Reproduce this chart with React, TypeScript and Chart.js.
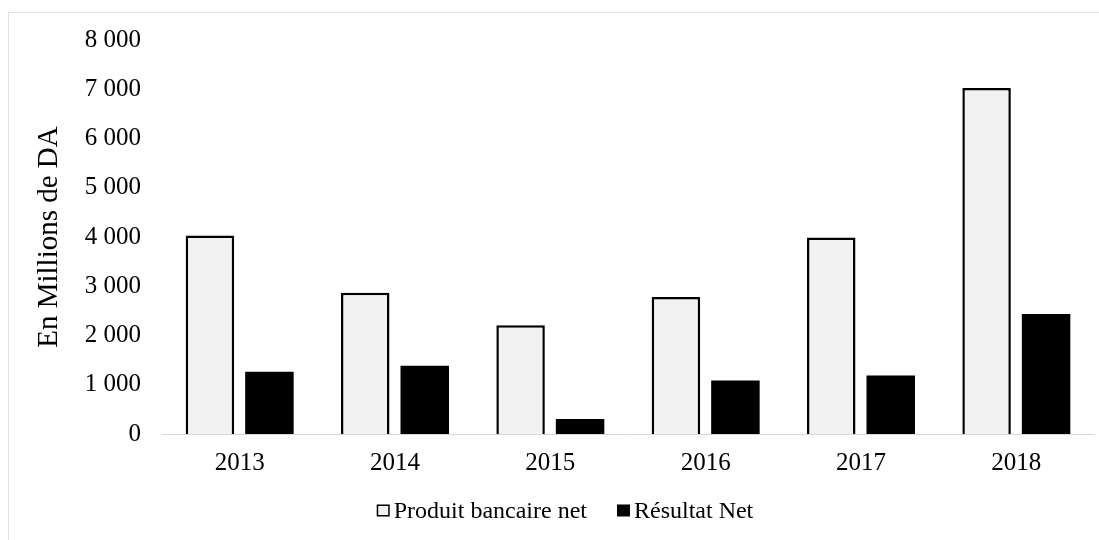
import React, { useEffect, useRef } from "react";
import { Chart, registerables } from "chart.js";

Chart.register(...registerables);

const categories = ["2013", "2014", "2015", "2016", "2017", "2018"];
const produitBancaireNet = [4030, 2870, 2210, 2780, 3990, 7025];
const resultatNet = [1265, 1385, 305, 1085, 1190, 2435];
const seriesLabels = ["Produit bancaire net", "Résultat Net"];
const yTicks = { min: 0, max: 8000, step: 1000 };
const axisTitle = "En Millions de DA";

const FONT = "'Liberation Serif', 'Times New Roman', serif";

const legendPlugin = {
  id: "customLegend",
  afterDraw(chart: any) {
    const ctx = chart.ctx as CanvasRenderingContext2D;
    const ds = chart.data.datasets;
    ctx.save();
    ctx.font = `24px ${FONT}`;
    ctx.textBaseline = "middle";
    ctx.textAlign = "left";
    const box = 13;
    const gap = 4;
    const spacing = 30;
    const widths = ds.map((d: any) => ctx.measureText(d.label).width);
    const total = ds.reduce((s: number, _d: any, i: number) => s + box + gap + widths[i], 0) + spacing * (ds.length - 1);
    let x = 565 - total / 2;
    const cy = 511;
    ds.forEach((d: any, i: number) => {
      ctx.fillStyle = d.backgroundColor;
      ctx.fillRect(x, cy - box / 2, box, box - 1);
      if (d.borderWidth) {
        ctx.strokeStyle = "#000";
        ctx.lineWidth = 1.5;
        ctx.strokeRect(x + 0.75, cy - box / 2 + 0.75, box - 1.5, box - 2.5);
      }
      x += box + gap;
      ctx.fillStyle = "#000";
      ctx.fillText(d.label, x, cy + 1);
      x += widths[i] + spacing;
    });
    ctx.restore();
  },
};

export default function App() {
  const canvasRef = useRef<HTMLCanvasElement | null>(null);

  useEffect(() => {
    if (!canvasRef.current) return;
    const chart = new Chart(canvasRef.current, {
      type: "bar",
      data: {
        labels: categories,
        datasets: [
          {
            label: seriesLabels[0],
            data: produitBancaireNet,
            backgroundColor: "#f2f2f2",
            borderColor: "#000000",
            borderWidth: 2.5,
            borderSkipped: "bottom",
            categoryPercentage: 0.766,
            barPercentage: 0.815,
          },
          {
            label: seriesLabels[1],
            data: resultatNet,
            backgroundColor: "#000000",
            borderWidth: 0,
            categoryPercentage: 0.766,
            barPercentage: 0.815,
          },
        ],
      },
      options: {
        animation: false,
        responsive: false,
        maintainAspectRatio: false,
        layout: { padding: { left: 0, right: 5, top: 40, bottom: 56 } },
        plugins: {
          legend: { display: false },
          tooltip: { enabled: false },
          title: { display: false },
        },
        scales: {
          x: {
            grid: { display: false, drawTicks: false },
            border: { display: true, color: "#d9d9d9", width: 1 },
            ticks: {
              color: "#000",
              font: { family: FONT, size: 25 },
              padding: 14,
            },
            afterFit(scale: any) {
              scale.height = 50;
            },
          },
          y: {
            min: yTicks.min,
            max: yTicks.max,
            grid: { display: false, drawTicks: false },
            border: { display: false },
            ticks: {
              stepSize: yTicks.step,
              color: "#000",
              font: { family: FONT, size: 25 },
              padding: 21,
              callback: (v: any) => {
                const n = Number(v);
                if (n === 0) return "0";
                const th = Math.floor(n / 1000);
                const rest = String(n % 1000).padStart(3, "0");
                return `${th} ${rest}`;
              },
            },
            title: {
              display: true,
              text: axisTitle,
              color: "#000",
              font: { family: FONT, size: 29 },
              padding: { top: 32, bottom: 0 },
            },
            afterFit(scale: any) {
              scale.width = 162;
            },
          },
        },
      },
      plugins: [legendPlugin],
    });
    return () => chart.destroy();
  }, []);

  return (
    <div style={{ position: "fixed", left: 0, top: 0, width: 1099, height: 540, background: "#fff", overflow: "hidden" }}>
      <div
        style={{
          position: "absolute",
          left: 8,
          top: 12,
          width: 1200,
          height: 600,
          borderTop: "1px solid #dfe4ea",
          borderLeft: "1px solid #dfe4ea",
        }}
      />
      <canvas ref={canvasRef} width={1099} height={540} style={{ position: "absolute", left: 0, top: 0, width: 1099, height: 540 }} />
    </div>
  );
}
